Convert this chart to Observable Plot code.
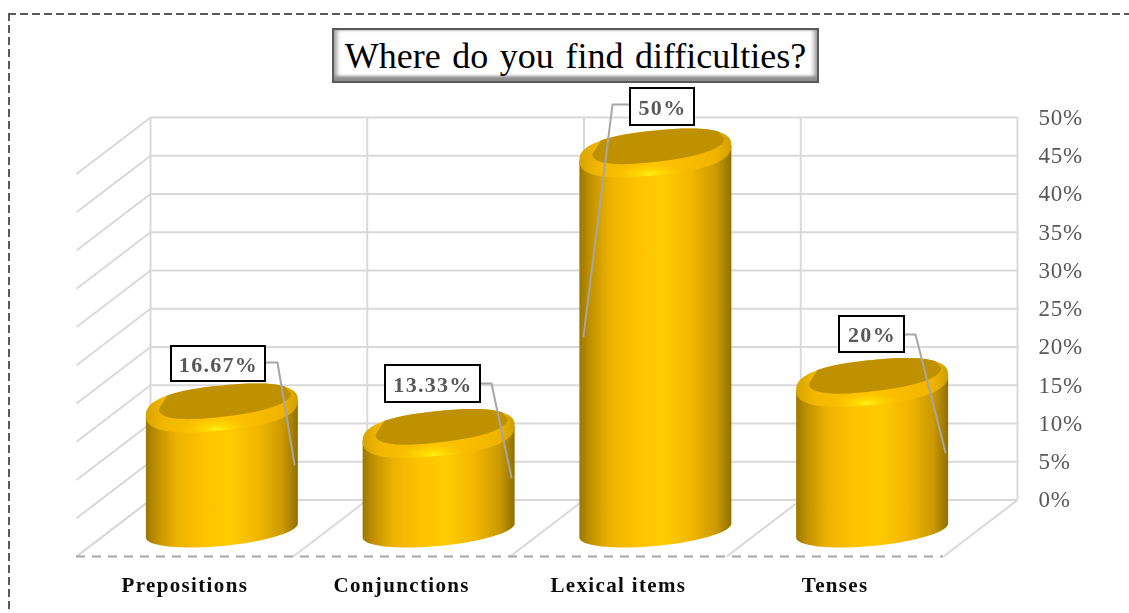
<!DOCTYPE html>
<html>
<head>
<meta charset="utf-8">
<script src="https://cdn.jsdelivr.net/npm/d3@7"></script>
<script src="https://cdn.jsdelivr.net/npm/@observablehq/plot@0.6"></script>
<style>
  html, body { margin: 0; padding: 0; background: #fff; width: 1129px; height: 613px; overflow: hidden; }
  #wrap { position: relative; width: 1129px; height: 613px; overflow: hidden; filter: blur(0.4px); }
  #dashTop { position: absolute; left: 8px; top: 13px; width: 1121px; height: 2px;
    background: repeating-linear-gradient(90deg, #595959 0 8px, transparent 8px 12px); }
  #dashLeft { position: absolute; left: 8px; top: 13px; width: 2px; height: 600px;
    background: repeating-linear-gradient(180deg, #595959 0 8px, transparent 8px 12px); }
  #title { position: absolute; left: 332px; top: 28px; width: 483px; height: 51px;
    border: 2px solid #595959; background: #fff; text-align: center;
    font: 36px/53px "Liberation Serif", serif; color: #000; word-spacing: 2.6px; white-space: nowrap;
    box-shadow: inset 0 -7px 3px -2px #8f8f8f, inset 6px 0 4px -3px #a0a0a0, inset -6px 0 4px -3px #a0a0a0, inset 0 3px 2px -2px #c8c8c8; }
  svg text { letter-spacing: 1.3px; }
  svg [aria-label="y-axis tick label"] text { letter-spacing: 0.7px; }
  svg [aria-label="x-axis tick label"] text { letter-spacing: 1.35px; }
  svg { position: absolute; left: 0; top: 0; }
</style>
</head>
<body>
<div id="wrap"><div id="dashTop"></div><div id="dashLeft"></div><div id="title">Where do you find difficulties?</div></div>
<script>
const categories = ["Prepositions", "Conjunctions", "Lexical items", "Tenses"];
const values = [16.67, 13.33, 50, 20];
const yTicks = [0, 5, 10, 15, 20, 25, 30, 35, 40, 45, 50];

// layout: pixel size of one x unit / one y unit, used to express the oblique 3-D offsets
const frame = { left: 150, right: 1017, top: 117, bottom: 499.5 };
const unitX = (frame.right - frame.left) / categories.length;
const unitY = (frame.bottom - frame.top) / 50;
const xPx = p => (p - frame.left) / unitX;
const yPx = p => (frame.bottom - p) / unitY;
const depthX = -74 / unitX, depthY = -56.5 / unitY;

// cylinder drawing parameters (px)
const cyl = { rx: 76, shiftX: -37, topShift: 35.5, baseY: 530, baseS: 7, baseH: 15.5, topS: 7.5, topH: 22.5, topP: 0.8,
  innerRx: 66, innerDx: 3, innerDy: -7, innerS: 8, innerH: 15.5, innerP: 0.85 };

function ellipsePoints(name, cx, cyVal, rx, s, h, from, to, p = 1) {
  const n = 72;
  const pow = v => Math.sign(v) * Math.pow(Math.abs(v), p);
  return d3.range(n + 1).map(k => {
    const t = from + (to - from) * k / n;
    const c = pow(Math.cos(t)), si = pow(Math.sin(t));
    return { name, x: cx + rx * c / unitX, y: cyVal - (-s * c + h * si) / unitY };
  });
}
const bodyRows = [], outerRows = [], innerRows = [];
categories.forEach((name, i) => {
  const cx = i + 0.5 + cyl.shiftX / unitX;
  const topC = values[i] - cyl.topShift / unitY;
  const baseC = yPx(cyl.baseY);
  bodyRows.push(ellipsePoints(name, cx, topC, cyl.rx, cyl.topS, cyl.topH, Math.PI, Math.PI)[0]);
  bodyRows.push(...ellipsePoints(name, cx, baseC, cyl.rx, cyl.baseS, cyl.baseH, Math.PI, 0));
  bodyRows.push(ellipsePoints(name, cx, topC, cyl.rx, cyl.topS, cyl.topH, 0, 0)[0]);
  outerRows.push(...ellipsePoints(name, cx, topC, cyl.rx, cyl.topS, cyl.topH, 0, 2 * Math.PI, cyl.topP));
  // the dark recessed top: back arc of the outer outline, closed by the front arc of the inner ellipse
  innerRows.push(...ellipsePoints(name, cx, topC, cyl.rx, cyl.topS, cyl.topH, 2 * Math.PI - 0.66, Math.PI + 0.85, cyl.topP));
  innerRows.push(...ellipsePoints(name, cx + cyl.innerDx / unitX, topC - cyl.innerDy / unitY,
    cyl.innerRx, cyl.innerS, cyl.innerH, Math.PI, 0, cyl.innerP));
});

// callout placement (px): box left, right, top, bottom, then leader elbow and tip
const callouts = [
  { box: [171, 265, 346, 381], side: "r", elbow: [277, 362], tip: [294, 464] },
  { box: [385, 480, 365, 402], side: "r", elbow: [491, 383], tip: [511, 477] },
  { box: [630, 694, 88, 125], side: "l", elbow: [612, 104], tip: [583, 336] },
  { box: [839, 904, 316, 352], side: "r", elbow: [915, 334], tip: [945, 452] }
];
const labelRows = callouts.map((c, i) => ({
  text: values[i] + "%",
  x1: xPx(c.box[0]), x2: xPx(c.box[1]), y1: yPx(c.box[2]), y2: yPx(c.box[3]),
  xm: xPx((c.box[0] + c.box[1]) / 2), ym: yPx((c.box[2] + c.box[3]) / 2 + 0.5)
}));
const leaderRows = callouts.flatMap((c, i) => [
  { i, x: xPx(c.side === "r" ? c.box[1] : c.box[0]), y: yPx(c.elbow[1]) },
  { i, x: xPx(c.elbow[0]), y: yPx(c.elbow[1]) },
  { i, x: xPx(c.tip[0]), y: yPx(c.tip[1]) }
]);

const defs = () => {
  const g = d3.create("svg:defs");
  g.html(`
    <linearGradient id="bodyGrad" x1="0" x2="1" y1="0" y2="0">
      <stop offset="0" stop-color="#9a7800"/><stop offset="0.07" stop-color="#c09000"/>
      <stop offset="0.2" stop-color="#ecb200"/><stop offset="0.38" stop-color="#ffc300"/>
      <stop offset="0.55" stop-color="#ffcb00"/><stop offset="0.74" stop-color="#f2b600"/>
      <stop offset="0.9" stop-color="#cc9a00"/><stop offset="1" stop-color="#917000"/>
    </linearGradient>
    <linearGradient id="rimGrad" x1="0" x2="1" y1="0" y2="0">
      <stop offset="0" stop-color="#d8a400"/><stop offset="0.12" stop-color="#f2b800"/>
      <stop offset="0.5" stop-color="#ffc400"/><stop offset="0.9" stop-color="#f0b400"/><stop offset="1" stop-color="#d09e00"/>
    </linearGradient>
    <radialGradient id="shineGrad" cx="0.47" cy="0.93" r="0.24">
      <stop offset="0" stop-color="#fff01a"/><stop offset="0.35" stop-color="#ffe000" stop-opacity="0.75"/>
      <stop offset="1" stop-color="#ffc800" stop-opacity="0"/>
    </radialGradient>`);
  return g.node();
};

const grid = { stroke: "#d9d9d9", strokeWidth: 2 };

const chart = Plot.plot({
  width: 1129,
  height: 613,
  marginLeft: frame.left,
  marginRight: 1129 - frame.right,
  marginTop: frame.top,
  marginBottom: 613 - frame.bottom,
  x: { type: "linear", domain: [0, categories.length], axis: null },
  y: { type: "linear", domain: [0, 50], axis: null },
  style: { background: "transparent", fontFamily: "'Liberation Serif', serif", overflow: "visible" },
  marks: [
    defs,
    Plot.ruleY(yTicks, { x1: 0, x2: categories.length, ...grid }),
    Plot.ruleX(d3.range(categories.length + 1), { y1: 0, y2: 50, ...grid }),
    Plot.link(yTicks, { x1: 0, y1: d => d, x2: depthX, y2: d => d + depthY, ...grid }),
    Plot.link(d3.range(categories.length + 1), { x1: d => d, y1: 0, x2: d => d + depthX, y2: depthY, ...grid }),
    Plot.ruleY([depthY], { x1: depthX, x2: categories.length + depthX, stroke: "#a6a6a6", strokeWidth: 2, strokeDasharray: "9 7" }),
    Plot.axisY({ anchor: "right", ticks: yTicks, tickSize: 0, tickPadding: 21, tickFormat: d => d + "%", label: null, fontSize: 23, fill: "#595959" }),
    Plot.axisX({ anchor: "bottom", ticks: categories.map((_, i) => i + 0.5), tickSize: 0, tickPadding: 77, dx: -74,
      tickFormat: (d) => categories[Math.floor(d)], label: null, fontSize: 21, fontWeight: "bold", fill: "#0d0d0d" }),
    Plot.line(bodyRows, { x: "x", y: "y", z: "name", fill: "url(#bodyGrad)", stroke: "none" }),
    Plot.line(outerRows, { x: "x", y: "y", z: "name", fill: "url(#rimGrad)", stroke: "none" }),
    Plot.line(outerRows, { x: "x", y: "y", z: "name", fill: "url(#shineGrad)", stroke: "none" }),
    Plot.line(innerRows, { x: "x", y: "y", z: "name", fill: "#bf9000", stroke: "none" }),
    Plot.line(leaderRows, { x: "x", y: "y", z: "i", stroke: "#a6a6a6", strokeWidth: 2 }),
    Plot.rect(labelRows, { x1: "x1", x2: "x2", y1: "y1", y2: "y2", fill: "white", stroke: "black", strokeWidth: 2 }),
    Plot.text(labelRows, { x: "xm", y: "ym", text: "text", fontSize: 22, fontWeight: "bold", fill: "#595959" })
  ]
});
document.getElementById("wrap").insertBefore(chart, document.getElementById("dashTop"));
</script>
</body>
</html>
